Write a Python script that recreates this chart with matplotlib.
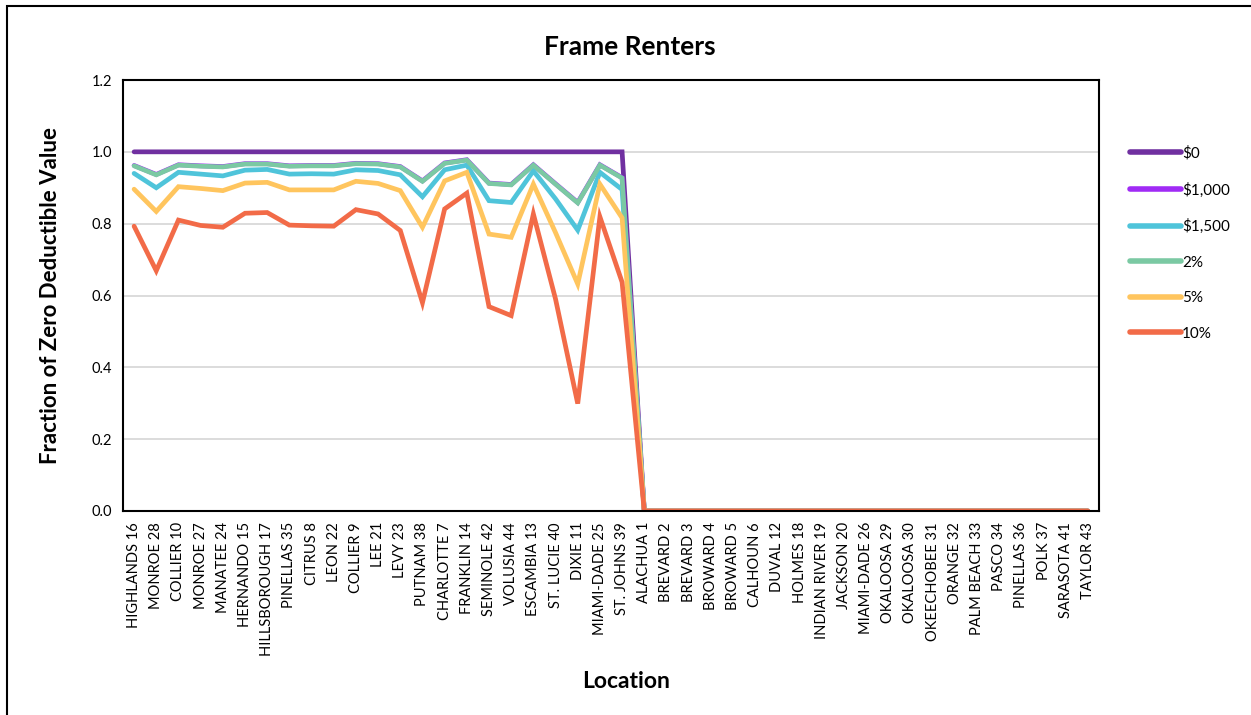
import matplotlib
matplotlib.use('Agg')
import matplotlib.pyplot as plt
from matplotlib.patches import Rectangle

plt.rcParams['font.family'] = ['Lato', 'DejaVu Sans']

locations = ['HIGHLANDS 16', 'MONROE 28', 'COLLIER 10', 'MONROE 27', 'MANATEE 24',
             'HERNANDO 15', 'HILLSBOROUGH 17', 'PINELLAS 35', 'CITRUS 8', 'LEON 22',
             'COLLIER 9', 'LEE 21', 'LEVY 23', 'PUTNAM 38', 'CHARLOTTE 7', 'FRANKLIN 14',
             'SEMINOLE 42', 'VOLUSIA 44', 'ESCAMBIA 13', 'ST. LUCIE 40', 'DIXIE 11',
             'MIAMI-DADE 25', 'ST. JOHNS 39', 'ALACHUA 1', 'BREVARD 2', 'BREVARD 3',
             'BROWARD 4', 'BROWARD 5', 'CALHOUN 6', 'DUVAL 12', 'HOLMES 18',
             'INDIAN RIVER 19', 'JACKSON 20', 'MIAMI-DADE 26', 'OKALOOSA 29',
             'OKALOOSA 30', 'OKEECHOBEE 31', 'ORANGE 32', 'PALM BEACH 33', 'PASCO 34',
             'PINELLAS 36', 'POLK 37', 'SARASOTA 41', 'TAYLOR 43']

# the last 21 locations all have zero
zeros = [0.0] * 21

ded_0 = [1.0] * 23 + zeros
ded_1000 = [0.962, 0.937, 0.964, 0.961, 0.959, 0.967, 0.967, 0.961, 0.962, 0.962,
            0.968, 0.967, 0.959, 0.919, 0.969, 0.978, 0.913, 0.909, 0.964, 0.911,
            0.859, 0.964, 0.928] + zeros
ded_1500 = [0.940, 0.900, 0.943, 0.938, 0.933, 0.949, 0.951, 0.938, 0.939, 0.938,
            0.950, 0.948, 0.936, 0.875, 0.950, 0.963, 0.864, 0.859, 0.947, 0.869,
            0.782, 0.943, 0.895] + zeros
pct_2 = [0.961, 0.936, 0.963, 0.960, 0.958, 0.966, 0.966, 0.960, 0.961, 0.961,
         0.967, 0.966, 0.958, 0.918, 0.968, 0.977, 0.912, 0.908, 0.963, 0.910,
         0.858, 0.963, 0.927] + zeros
pct_5 = [0.896, 0.834, 0.903, 0.898, 0.892, 0.913, 0.915, 0.894, 0.894, 0.894,
         0.918, 0.912, 0.892, 0.790, 0.919, 0.943, 0.771, 0.762, 0.910, 0.775,
         0.632, 0.910, 0.816] + zeros
pct_10 = [0.793, 0.669, 0.810, 0.795, 0.790, 0.829, 0.831, 0.796, 0.794, 0.793,
          0.839, 0.827, 0.781, 0.580, 0.841, 0.885, 0.569, 0.544, 0.827, 0.590,
          0.299, 0.819, 0.637] + zeros

series = [('$0', ded_0, '#7030A0'),
          ('$1,000', ded_1000, '#A02BF5'),
          ('$1,500', ded_1500, '#4FC4DA'),
          ('2%', pct_2, '#7BC9A3'),
          ('5%', pct_5, '#FFC55E'),
          ('10%', pct_10, '#F26B48')]

fig = plt.figure(figsize=(12.51, 7.15), dpi=100)
ax = fig.add_axes([123 / 1251, 1 - 511 / 715, 976 / 1251, 431 / 715])

x = list(range(len(locations)))
for name, vals, color in series:
    ax.plot(x, vals, color=color, lw=3.4, label=name,
            solid_capstyle='round', solid_joinstyle='miter')

ax.set_xlim(-0.5, len(locations) - 0.5)
ax.set_ylim(0, 1.2)
ax.set_yticks([0, 0.2, 0.4, 0.6, 0.8, 1.0, 1.2])
ax.set_yticklabels(['0.0', '0.2', '0.4', '0.6', '0.8', '1.0', '1.2'], fontsize=10.5)
ax.set_xticks(x)
ax.set_xticklabels(locations, rotation=90, fontsize=10.5)
ax.tick_params(length=0, pad=8)
ax.grid(axis='y', color='#D9D9D9', lw=1.3)
ax.set_axisbelow(True)
for sp in ax.spines.values():
    sp.set_color('black')
    sp.set_linewidth(1.5)

# title and x label are centred on the whole chart, not the plot area
ax.set_title('Frame Renters', fontsize=19, fontweight='bold', pad=18, x=0.519)
ax.set_xlabel('Location', fontsize=16.5, fontweight='bold', labelpad=10)
ax.xaxis.set_label_coords(0.515, -0.372)
ax.set_ylabel('Fraction of Zero Deductible Value', fontsize=16, fontweight='bold', labelpad=22)

leg = ax.legend(loc='upper left', bbox_to_anchor=(1.018, 0.878), frameon=False,
                fontsize=11, handlelength=3.3, handletextpad=0.1, labelspacing=1.41)
for line in leg.get_lines():
    line.set_linewidth(4)
    line.set_solid_capstyle('round')

# outer frame around the chart
fig.patches.append(Rectangle((7 / 1251, -0.1), 1.1, 1.1 - 6 / 715, transform=fig.transFigure,
                             fill=False, edgecolor='black', lw=1.5))

plt.savefig('out.png', dpi=100)
